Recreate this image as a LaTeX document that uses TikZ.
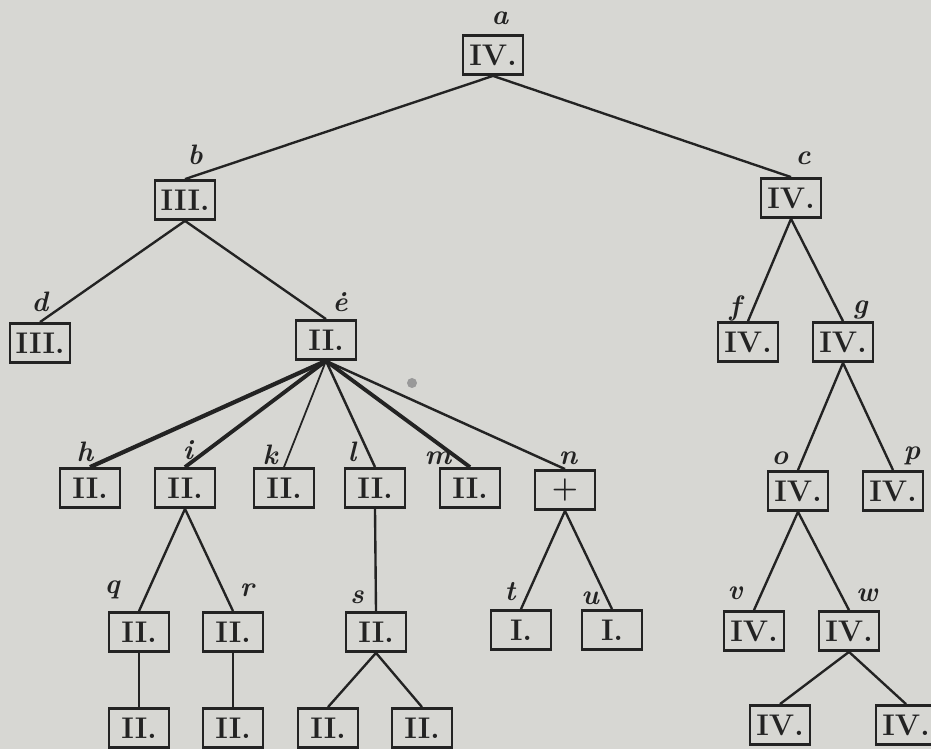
\documentclass[tikz,border=0pt]{standalone}
\usepackage{tikz}
\definecolor{paper}{RGB}{215,215,211}
\definecolor{ink}{RGB}{35,35,35}

\begin{document}
\begin{tikzpicture}[x=0.02cm,y=-0.02cm]
		\tikzstyle{box}=[draw=ink,line width=1.6pt,minimum width=1.2cm,minimum height=0.78cm,inner sep=0,text=ink,font=\fontsize{17}{20}\selectfont\bfseries]
		\tikzstyle{lbl}=[text=ink,inner sep=0,font=\fontsize{16}{18}\selectfont\bfseries\itshape]
		\tikzstyle{branch}=[draw=ink,line width=1.35pt]

		\fill[paper] (0,0) rectangle (931,749);
		\useasboundingbox (0,0) rectangle (931,749);

		\foreach \name/\x/\y/\num in {a/493/55/IV., b/185/200/III., c/791/198/IV.,
				d/40/343/III., e/326/340/II., f/748/342/IV., g/843/342/IV.,
				h/90/488/II., i/185/488/II., k/284/488/II., l/375/488/II., m/470/488/II.,
				o/798/491/IV., p/893/491/IV.,
				q/139/632/II., r/233/632/II., s/376/632/II., t/521/630/I., u/612/630/I.,
				v/754/631/IV., w/849/631/IV.,
				q1/139/728/II., r1/233/728/II., s1/328/728/II., s2/422/728/II.,
				w1/780/725/IV., w2/906/725/IV.}
			\node[box] (\name) at (\x,\y) {\num};
		\node[box] (n) at (565,490) {+};

		\foreach \lab/\x/\y in {a/500/18, b/195/155, c/803/158, d/40/302, f/735/308, g/860/310,
				h/85/452, i/188/450, k/270/455, l/352/452, m/438/458, n/568/458,
				o/780/458, p/912/456, q/112/590, r/247/590, s/357/597, t/510/592,
				u/590/598, v/735/593, w/867/595}
			\node[lbl] (l\lab) at (\x,\y) {\lab};
		\node[lbl] (le) at (340,302) {\.{e}};

		\draw[branch] (a.south) -- (b.north);
		\draw[branch] (a.south) -- (c.north);
		\draw[branch] (b.south) -- (d.north);
		\draw[branch] (b.south) -- (e.north);
		\draw[branch] (c.south) -- (f.north);
		\draw[branch] (c.south) -- (g.north);

		\foreach \kid/\w in {h/2.4pt,i/2.2pt,k/1pt,l/1.4pt,m/2.2pt,n/1.4pt}
			\draw[branch,line width=\w] (e.south) -- (\kid.north);

		\draw[branch] (i.south) -- (q.north);
		\draw[branch] (i.south) -- (r.north);
		\draw[branch] (l.south) -- (s.north);
		\draw[branch] (n.south) -- (t.north);
		\draw[branch] (n.south) -- (u.north);
		\draw[branch] (g.south) -- (o.north);
		\draw[branch] (g.south) -- (p.north);
		\draw[branch] (o.south) -- (v.north);
		\draw[branch] (o.south) -- (w.north);

		\draw[branch] (q.south) -- (q1.north);
		\draw[branch] (r.south) -- (r1.north);
		\draw[branch] (s.south) -- (s1.north);
		\draw[branch] (s.south) -- (s2.north);
		\draw[branch] (w.south) -- (w1.north);
		\draw[branch] (w.south) -- (w2.north);

		\fill[gray!80] (412,383) circle (5);
	\end{tikzpicture}
\end{document}
